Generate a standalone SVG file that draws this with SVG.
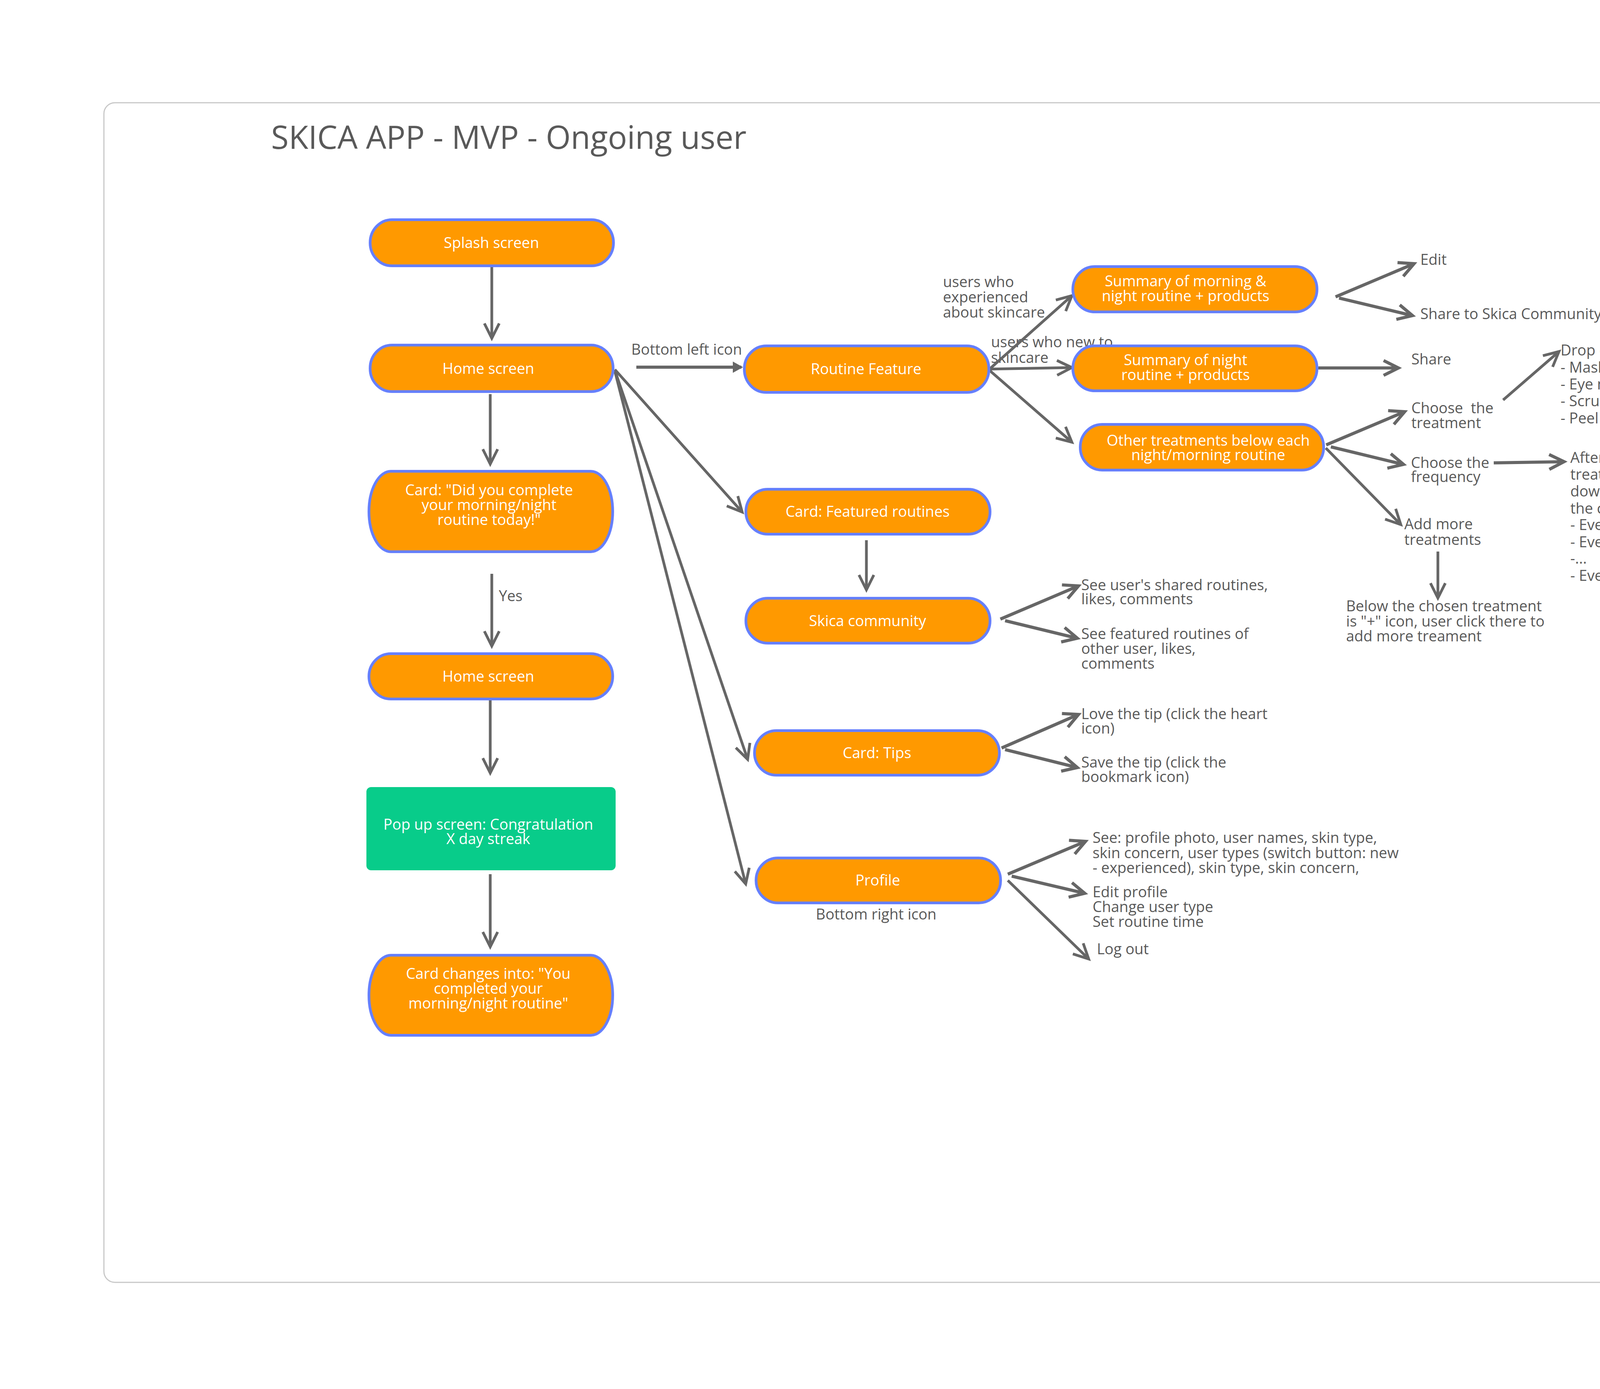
<svg xmlns="http://www.w3.org/2000/svg" width="4798" height="3556" viewBox="0 0 4798 3556">
<defs>
<style>
.node{fill:#FF9900;stroke:#6680FF;stroke-width:7}
.green{fill:#08CC8A}
.nt{font-family:"Open Sans","Liberation Sans",sans-serif;font-size:38px;fill:#FFFFFF;text-anchor:middle}
.lb{font-family:"Open Sans","Liberation Sans",sans-serif;font-size:38px;fill:#595959;white-space:pre}
.title{font-family:"Open Sans","Liberation Sans",sans-serif;font-size:82px;fill:#595959}
.c{stroke:#666666;stroke-width:7;fill:none;marker-end:url(#arr)}
.cb{stroke:#666666;stroke-width:8;fill:none;marker-end:url(#arrb)}
.cs{stroke:#666666;stroke-width:8;fill:none;marker-end:url(#arrs)}
</style>
<marker id="arr" markerUnits="userSpaceOnUse" markerWidth="100" markerHeight="100" refX="0" refY="0" orient="auto" overflow="visible" viewBox="-50 -50 100 100">
<path d="M-38,-19 L0,0 L-38,19" fill="none" stroke="#666666" stroke-width="7"/>
</marker>
<marker id="arrb" markerUnits="userSpaceOnUse" markerWidth="100" markerHeight="100" refX="0" refY="0" orient="auto" overflow="visible" viewBox="-50 -50 100 100">
<path d="M-38,-19 L0,0 L-38,19" fill="none" stroke="#666666" stroke-width="8"/>
</marker>
<marker id="arrs" markerUnits="userSpaceOnUse" markerWidth="60" markerHeight="60" refX="0" refY="0" orient="auto" overflow="visible" viewBox="-30 -30 60 60">
<path d="M-20,-11 L0,0 L-20,11 Z" fill="#666666" stroke="#666666" stroke-width="4"/>
</marker>
</defs>
<rect x="0" y="0" width="4798" height="3556" fill="#FFFFFF"/>
<rect id="frame" x="266" y="263" width="4263" height="3020" rx="28" ry="28" fill="#FFFFFF" stroke="#C8C8C8" stroke-width="3"/>
<text class="title" x="694" y="381">SKICA APP - MVP - Ongoing user</text>

<g id="labels">
<text class="lb" x="1616" y="908">Bottom left icon</text>
<text class="lb" x="1277" y="1539">Yes</text>
<text class="lb" x="2414" y="735">users who</text>
<text class="lb" x="2414" y="774">experienced</text>
<text class="lb" x="2414" y="813">about skincare</text>
<text class="lb" x="2537" y="889">users who new to</text>
<text class="lb" x="2537" y="929">skincare</text>
<text class="lb" x="3636" y="678">Edit</text>
<text class="lb" x="3636" y="817">Share to Skica Community</text>
<text class="lb" x="3613" y="933">Share</text>
<text class="lb" x="3613" y="1058">Choose  the</text>
<text class="lb" x="3613" y="1096">treatment</text>
<text class="lb" x="3995" y="910">Drop down box</text>
<text class="lb" x="3995" y="954">- Mask</text>
<text class="lb" x="3995" y="997">- Eye mask</text>
<text class="lb" x="3995" y="1040">- Scrub</text>
<text class="lb" x="3995" y="1084">- Peel</text>
<text class="lb" x="3612" y="1198">Choose the</text>
<text class="lb" x="3612" y="1234">frequency</text>
<text class="lb" x="4020" y="1185">After selecting a</text>
<text class="lb" x="4020" y="1228">treatment, another drop</text>
<text class="lb" x="4020" y="1271">down box appears next to</text>
<text class="lb" x="4020" y="1315">the chosen treatment</text>
<text class="lb" x="4020" y="1357">- Every day</text>
<text class="lb" x="4020" y="1401">- Every Monday</text>
<text class="lb" x="4020" y="1443">-...</text>
<text class="lb" x="4020" y="1487">- Every Sunday</text>
<text class="lb" x="3595" y="1355">Add more</text>
<text class="lb" x="3595" y="1395">treatments</text>
<text class="lb" x="3446" y="1565">Below the chosen treatment</text>
<text class="lb" x="3446" y="1604">is "+" icon, user click there to</text>
<text class="lb" x="3446" y="1642">add more treament</text>
<text class="lb" x="2768" y="1511">See user's shared routines,</text>
<text class="lb" x="2768" y="1547">likes, comments</text>
<text class="lb" x="2768" y="1636">See featured routines of</text>
<text class="lb" x="2768" y="1674">other user, likes,</text>
<text class="lb" x="2768" y="1712">comments</text>
<text class="lb" x="2768" y="1841">Love the tip (click the heart</text>
<text class="lb" x="2768" y="1878">icon)</text>
<text class="lb" x="2768" y="1965">Save the tip (click the</text>
<text class="lb" x="2768" y="2002">bookmark icon)</text>
<text class="lb" x="2797" y="2158">See: profile photo, user names, skin type,</text>
<text class="lb" x="2797" y="2197">skin concern, user types (switch button: new</text>
<text class="lb" x="2797" y="2235">- experienced), skin type, skin concern,</text>
<text class="lb" x="2797" y="2297">Edit profile</text>
<text class="lb" x="2797" y="2335">Change user type</text>
<text class="lb" x="2797" y="2373">Set routine time</text>
<text class="lb" x="2808" y="2443">Log out</text>
<text class="lb" x="2243" y="2354" text-anchor="middle">Bottom right icon</text>
</g>

<g id="connectors">
<line class="c" x1="1259" y1="684" x2="1259" y2="866"/>
<line class="c" x1="1255" y1="1009" x2="1255" y2="1188"/>
<line class="c" x1="1259" y1="1469" x2="1259" y2="1654"/>
<line class="c" x1="1255" y1="1793" x2="1255" y2="1979"/>
<line class="c" x1="1255" y1="2238" x2="1255" y2="2424"/>
<line class="c" x1="2218" y1="1383" x2="2218" y2="1510"/>
<line class="cs" x1="1629" y1="940" x2="1898" y2="940"/>
<line class="c" x1="1574" y1="946" x2="1900" y2="1311"/>
<line class="c" x1="1574" y1="948" x2="1914" y2="1944"/>
<line class="c" x1="1574" y1="950" x2="1909" y2="2263"/>
<line class="c" x1="2533" y1="945" x2="2744" y2="757"/>
<line class="c" x1="2533" y1="945" x2="2744" y2="941"/>
<line class="c" x1="2533" y1="948" x2="2744" y2="1132"/>
<line class="cb" x1="3419" y1="760" x2="3620" y2="675"/>
<line class="cb" x1="3428" y1="763" x2="3616" y2="808"/>
<line class="cb" x1="3375" y1="942" x2="3580" y2="942"/>
<line class="cb" x1="3395" y1="1139" x2="3596" y2="1054"/>
<line class="cb" x1="3407" y1="1144" x2="3593" y2="1189"/>
<line class="c" x1="3394" y1="1147" x2="3586" y2="1343"/>
<line class="c" x1="3848" y1="1024" x2="3991" y2="900"/>
<line class="cb" x1="3824" y1="1185" x2="4004" y2="1182"/>
<line class="c" x1="3681" y1="1412" x2="3681" y2="1531"/>
<line class="cb" x1="2561" y1="1585" x2="2761" y2="1500"/>
<line class="cb" x1="2573" y1="1589" x2="2758" y2="1634"/>
<line class="cb" x1="2564" y1="1915" x2="2761" y2="1829"/>
<line class="cb" x1="2573" y1="1919" x2="2758" y2="1965"/>
<line class="cb" x1="2580" y1="2238" x2="2779" y2="2154"/>
<line class="cb" x1="2590" y1="2243" x2="2777" y2="2287"/>
<line class="c" x1="2580" y1="2254" x2="2787" y2="2455"/>
</g>

<g id="splash">
<rect class="node" x="947.5" y="562.5" width="623" height="118" rx="56" ry="59"/>
<text class="nt" x="1258" y="635">Splash screen</text>
</g>
<g id="home1">
<rect class="node" x="947.5" y="883.5" width="622" height="119" rx="56" ry="59"/>
<text class="nt" x="1250" y="957">Home screen</text>
</g>
<g id="card1">
<rect class="node" x="944.5" y="1206.5" width="624" height="206" rx="56" ry="103"/>
<text class="nt" x="1252" y="1268">Card: "Did you complete</text>
<text class="nt" x="1252" y="1306">your morning/night</text>
<text class="nt" x="1252" y="1344">routine today!"</text>
</g>
<g id="home2">
<rect class="node" x="944.5" y="1673.5" width="624" height="116" rx="56" ry="58"/>
<text class="nt" x="1250" y="1745">Home screen</text>
</g>
<g id="popup">
<rect class="green" x="938" y="2015" width="638" height="213" rx="12" ry="12"/>
<text class="nt" x="1250" y="2124">Pop up screen: Congratulation</text>
<text class="nt" x="1250" y="2161">X day streak</text>
</g>
<g id="card2">
<rect class="node" x="944.5" y="2445.5" width="624" height="205" rx="56" ry="102"/>
<text class="nt" x="1250" y="2506">Card changes into: "You</text>
<text class="nt" x="1250" y="2544">completed your</text>
<text class="nt" x="1250" y="2582">morning/night routine"</text>
</g>
<g id="routine">
<rect class="node" x="1905.5" y="885.5" width="626" height="119" rx="56" ry="59"/>
<text class="nt" x="2217" y="958">Routine Feature</text>
</g>
<g id="featured">
<rect class="node" x="1909.5" y="1252.5" width="625" height="115" rx="56" ry="57"/>
<text class="nt" x="2221" y="1323">Card: Featured routines</text>
</g>
<g id="community">
<rect class="node" x="1909.5" y="1531.5" width="625" height="115" rx="56" ry="57"/>
<text class="nt" x="2221" y="1603">Skica community</text>
</g>
<g id="tips">
<rect class="node" x="1931.5" y="1870.5" width="627" height="114" rx="56" ry="57"/>
<text class="nt" x="2245" y="1941">Card: Tips</text>
</g>
<g id="profile">
<rect class="node" x="1935.5" y="2196.5" width="626" height="115" rx="56" ry="57"/>
<text class="nt" x="2247" y="2267">Profile</text>
</g>
<g id="summary-morning">
<rect class="node" x="2746.5" y="682.5" width="625" height="116" rx="56" ry="58"/>
<text class="nt" x="3035" y="733">Summary of morning &amp;</text>
<text class="nt" x="3035" y="771">night routine + products</text>
</g>
<g id="summary-night">
<rect class="node" x="2746.5" y="885.5" width="625" height="115" rx="56" ry="57"/>
<text class="nt" x="3035" y="935">Summary of night</text>
<text class="nt" x="3035" y="973">routine + products</text>
</g>
<g id="other-treatments">
<rect class="node" x="2765.5" y="1086.5" width="623" height="117" rx="56" ry="58"/>
<text class="nt" x="3093" y="1141">Other treatments below each</text>
<text class="nt" x="3093" y="1178">night/morning routine</text>
</g>
</svg>
